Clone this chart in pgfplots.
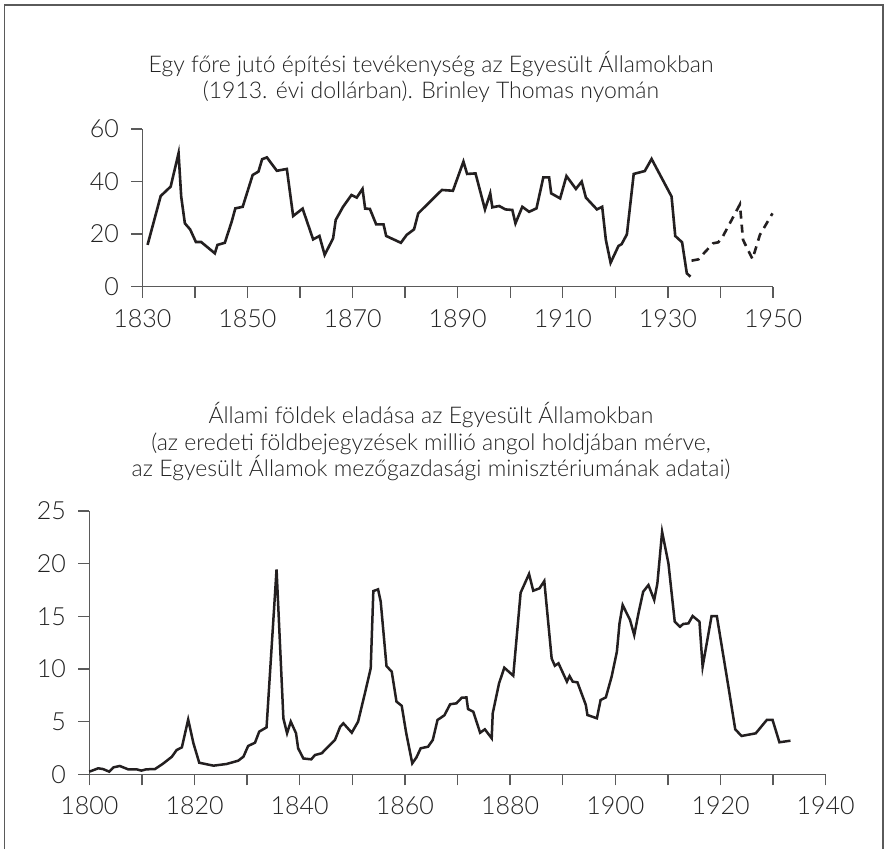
\documentclass[border=0pt]{standalone}
\usepackage{pgfplots}
\pgfplotsset{compat=1.18}
\usepackage{fontspec}
\setmainfont{Lato Light}
\definecolor{axisgray}{HTML}{5A5A5A}
\definecolor{linecol}{HTML}{231F20}
\definecolor{txt}{HTML}{222222}
\pgfplotsset{
  chartstyle/.style={
    scale only axis,
    anchor=south west,
    axis lines=left,
    axis line style={-, axisgray, line width=1.3pt},
    tick align=outside,
    major tick length=11pt,
    minor tick length=11pt,
    every tick/.style={axisgray, line width=1.3pt},
    tick label style={font=\fontsize{25}{29}\selectfont, text=txt},
    xticklabel style={yshift=-8pt},
    yticklabel style={xshift=-9pt},
    /pgf/number format/assume math mode=true,
    /pgf/number format/1000 sep={},
    clip=false,
  }
}
\begin{document}
\begin{tikzpicture}
\useasboundingbox (0pt,0pt) rectangle (886pt,849pt);
\draw[axisgray, line width=1.3pt] (4.5pt,0pt) -- (4.5pt,844pt) -- (883pt,844pt) -- (883pt,0pt);

\node[anchor=base, text=txt, font=\fontsize{23}{27}\selectfont] at (431pt,776pt) {Egy főre jutó építési tevékenység az Egyesült Államokban};
\node[anchor=base, text=txt, font=\fontsize{23}{27}\selectfont] at (431pt,750pt) {(1913. évi dollárban). Brinley Thomas nyomán};

\node[anchor=base, text=txt, font=\fontsize{23}{27}\selectfont] at (431pt,425pt) {Állami földek eladása az Egyesült Államokban};
\node[anchor=base, text=txt, font=\fontsize{23}{27}\selectfont] at (431pt,398pt) {(az eredeti földbejegyzések millió angol holdjában mérve,};
\node[anchor=base, text=txt, font=\fontsize{23}{27}\selectfont] at (431pt,372pt) {az Egyesült Államok mezőgazdasági minisztériumának adatai)};

\begin{axis}[chartstyle,
  at={(142.3pt,562.3pt)}, width=630.7pt, height=157.7pt,
  xmin=1830, xmax=1950, ymin=0, ymax=60,
  xtick={1830,1850,...,1950}, minor xtick={1840,1860,...,1940},
  ytick={0,20,40,60}]
\addplot[linecol, line width=2.6pt, mark=none] coordinates {
(1831.0,15.9)(1833.5,34.5)(1835.4,38.1)(1836.9,50.8)(1837.4,34.3)(1838.1,24.1)(1839.1,21.8)(1840.2,17.0)(1841.2,17.0)(1843.8,12.7)(1844.3,15.9)(1845.7,16.7)(1847.0,24.7)(1847.7,29.8)(1849.1,30.4)(1851.0,42.5)(1852.1,43.8)(1852.8,48.5)(1853.7,49.2)(1855.6,44.1)(1857.5,44.8)(1858.7,26.9)(1860.5,29.7)(1862.5,18.0)(1863.7,19.3)(1864.7,12.1)(1866.3,18.4)(1866.8,25.4)(1868.2,30.4)(1869.8,34.9)(1870.8,33.9)(1871.9,37.2)(1872.4,29.7)(1873.3,29.6)(1874.5,23.7)(1875.9,23.7)(1876.4,19.3)(1879.2,16.7)(1880.3,19.7)(1881.7,21.8)(1882.5,27.9)(1887.0,36.8)(1889.1,36.5)(1891.1,47.6)(1891.8,42.9)(1893.4,43.1)(1895.2,29.4)(1896.2,35.5)(1896.6,30.2)(1897.9,30.7)(1899.1,29.4)(1900.4,29.2)(1901.0,24.1)(1902.3,30.4)(1903.6,28.5)(1905.0,29.8)(1906.3,41.6)(1907.4,41.6)(1907.8,35.5)(1909.5,33.6)(1910.7,42.1)(1912.5,37.2)(1913.6,40.0)(1914.4,33.9)(1916.5,29.4)(1917.5,30.4)(1918.2,17.8)(1919.1,9.1)(1920.6,15.5)(1921.2,16.2)(1922.2,19.9)(1923.5,42.9)(1925.6,44.0)(1926.9,48.6)(1930.7,34.3)(1931.4,19.3)(1932.7,16.9)(1933.6,5.1)(1934.3,3.8)
};
\addplot[linecol, line width=2.6pt, mark=none, dash pattern=on 8pt off 6pt] coordinates {
(1934.5,9.9)(1935.8,10.4)(1936.7,12.4)(1938.6,16.5)(1939.6,16.9)(1940.5,19.3)(1943.7,31.3)(1944.3,17.8)(1946.1,10.5)(1947.5,19.7)(1949.9,27.9)
};
\end{axis}

\begin{axis}[chartstyle,
  at={(89.3pt,74.7pt)}, width=736.4pt, height=263.3pt,
  xmin=1800, xmax=1940, ymin=0, ymax=25,
  xtick={1800,1820,...,1940}, minor xtick={1810,1830,...,1930},
  ytick={0,5,...,25}]
\addplot[linecol, line width=2.5pt, mark=none] coordinates {
(1800,0.25)(1801.7,0.57)(1802.6,0.5)(1803.8,0.25)(1804.6,0.66)(1805.8,0.79)(1807.4,0.47)(1809.0,0.47)(1809.9,0.35)(1810.8,0.47)(1812.5,0.5)(1814.1,1.04)(1815.7,1.67)(1816.6,2.3)(1817.6,2.56)(1818.8,5.2)(1819.8,2.94)(1820.9,1.1)(1823.6,0.82)(1826.1,0.98)(1828.3,1.29)(1829.3,1.67)(1830.2,2.69)(1831.5,3.0)(1832.3,4.05)(1833.7,4.46)(1835.6,19.46)(1836.9,5.3)(1837.6,3.9)(1838.3,5.0)(1839.3,3.9)(1839.7,2.47)(1840.7,1.5)(1842.2,1.42)(1842.9,1.83)(1844.2,2.0)(1845.4,2.62)(1846.7,3.26)(1847.7,4.52)(1848.3,4.84)(1849.9,3.95)(1851.1,5.0)(1852.4,7.7)(1853.5,10.06)(1854.0,17.4)(1854.9,17.56)(1855.4,16.4)(1856.5,10.28)(1857.5,9.74)(1858.4,6.9)(1859.4,6.5)(1860.2,4.05)(1861.4,1.04)(1862.2,1.61)(1863.0,2.47)(1864.4,2.62)(1865.3,3.26)(1866.2,5.16)(1867.5,5.6)(1868.6,6.65)(1869.8,6.74)(1870.8,7.27)(1871.7,7.3)(1872.0,6.2)(1873.0,5.94)(1874.3,3.95)(1875.2,4.27)(1876.5,3.42)(1876.7,5.8)(1877.9,8.64)(1878.9,10.12)(1880.6,9.36)(1882.0,17.24)(1883.6,19.02)(1884.4,17.43)(1885.6,17.66)(1886.5,18.35)(1887.9,11.0)(1888.5,10.31)(1889.2,10.54)(1890.8,8.8)(1891.3,9.33)(1891.9,8.8)(1892.8,8.73)(1894.4,6.58)(1894.7,5.63)(1896.5,5.32)(1897.2,7.05)(1898.2,7.3)(1899.3,9.27)(1900.3,11.64)(1900.8,14.33)(1901.4,16.07)(1902.8,14.65)(1903.6,13.22)(1904.4,15.28)(1905.3,17.34)(1906.3,17.97)(1907.4,16.55)(1908.0,18.13)(1908.9,23.03)(1910.1,20.03)(1911.3,14.49)(1912.3,14.01)(1912.9,14.27)(1913.9,14.33)(1914.7,15.03)(1916.0,14.49)(1916.6,10.22)(1918.3,15.03)(1919.3,15.03)(1921.5,8.32)(1922.8,4.27)(1924.0,3.64)(1926.7,3.89)(1928.8,5.16)(1929.9,5.16)(1931.2,3.04)(1933.3,3.19)
};
\end{axis}
\end{tikzpicture}
\end{document}
